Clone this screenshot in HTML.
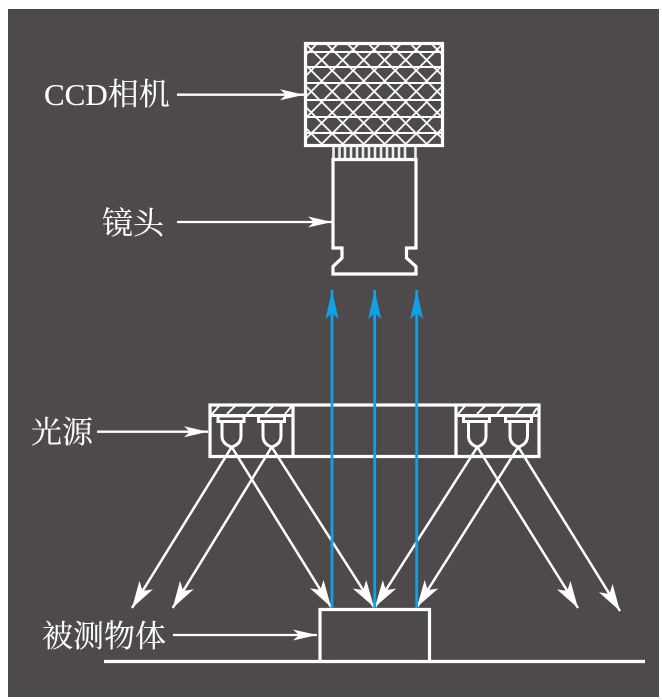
<!DOCTYPE html>
<html><head><meta charset="utf-8"><style>
html,body{margin:0;padding:0;background:#fff;width:662px;height:700px;overflow:hidden}
svg{display:block;position:absolute;left:0;top:0}
text{font-family:"Liberation Serif","Noto Serif CJK SC",serif;font-size:31px;fill:#fff;stroke:#fff;stroke-width:.12px}
</style></head><body>
<svg width="662" height="700" viewBox="0 0 662 700" xmlns="http://www.w3.org/2000/svg">
<defs>
<pattern id="x" patternUnits="userSpaceOnUse" width="21" height="21" patternTransform="translate(311.2,49.5)">
<path d="M-1,-1L22,22M22,-1L-1,22" stroke="#fff" stroke-width="1.8" fill="none"/>
</pattern>
<marker id="w" markerUnits="userSpaceOnUse" markerWidth="30" markerHeight="18" refX="26" refY="9" orient="auto" overflow="visible">
<path d="M26,9L-1,1L6,9L-1,17Z" fill="#fff"/></marker>
<marker id="h" markerUnits="userSpaceOnUse" markerWidth="26" markerHeight="16" refX="24" refY="8" orient="auto" overflow="visible">
<path d="M24,8L0,2.5L6,8L0,13.5Z" fill="#fff"/></marker>
<marker id="b" markerUnits="userSpaceOnUse" markerWidth="30" markerHeight="16" refX="28" refY="8" orient="auto" overflow="visible">
<path d="M28,8L-1,1.5L5,8L-1,14.5Z" fill="#12a0e2"/></marker>
</defs>
<rect x="8" y="9" width="651" height="688" fill="#4e4a4b"/>

<!-- camera -->
<rect x="305.5" y="43.5" width="137" height="101.5" fill="url(#x)"/>
<g stroke="#fff" stroke-width="2" fill="none">
<path d="M305,52H443M305,67H443M305,83H443M305,100H443M305,117H443M305,133H443"/>
</g>
<rect x="305.5" y="43.5" width="137" height="102" fill="none" stroke="#fff" stroke-width="3.2"/>
<!-- comb -->
<g stroke="#eee" stroke-width="2.6" fill="none">
<path d="M333.5,146V159M339.5,146V159M345,146V159M351,146V159M357,146V159M363,146V159M369,146V159M375,146V159M381,146V159M387,146V159M393,146V159M399,146V159M405,146V159M415.5,146V159"/>
</g>
<!-- lens -->
<path d="M333,159.5H416V248H406.5V258L416,266.5V274H333V266.5L342,258V248H333Z" fill="none" stroke="#fff" stroke-width="3.2"/>

<!-- light box -->
<g stroke="#fff" fill="none">
<rect x="210" y="405" width="329" height="51.5" stroke-width="3.2"/>
<path d="M293,405V456M456,405V456" stroke-width="3.2"/>
<path d="M210,415.5H293M456,415.5H539" stroke-width="3"/>
<path d="M212,414L219,406M227,414L235,406M247,414L255,406M265,414L273,406M285,414L291,407M458,414L465,406M477,414L485,406M497,414L504,406M516,414L523,406M533,414L537,408" stroke-width="2"/>
<g stroke-width="3">
<rect x="218" y="416" width="26" height="5.5"/>
<path d="M222,421.5V436Q222,444 231.7,447Q241,444 241,436V421.5"/>
<rect x="258.5" y="416" width="26" height="5.5"/>
<path d="M263,421.5V436Q263,444 271.7,447Q281,444 281,436V421.5"/>
<rect x="463.5" y="416" width="26" height="5.5"/>
<path d="M468.5,421.5V436Q468.5,444 477.3,447Q486,444 486,436V421.5"/>
<rect x="505.5" y="416" width="26" height="5.5"/>
<path d="M510,421.5V436Q510,444 518.3,447Q527.5,444 527.5,436V421.5"/>
</g>
</g>

<!-- object and ground -->
<path d="M320,661V609.5H429.5V661" fill="none" stroke="#fff" stroke-width="3.2"/>
<path d="M104,661.5H645" stroke="#fff" stroke-width="3.2" fill="none"/>

<!-- rays -->
<g stroke="#fff" stroke-width="2.5" fill="none">
<path d="M231.7,447L132,608" marker-end="url(#w)"/>
<path d="M271.7,447L172.7,608" marker-end="url(#w)"/>
<path d="M231.7,447L331,607" marker-end="url(#w)"/>
<path d="M271.7,447L374,607" marker-end="url(#w)"/>
<path d="M477.3,447L375,607" marker-end="url(#w)"/>
<path d="M518.3,447L417,607" marker-end="url(#w)"/>
<path d="M477.3,447L578,608" marker-end="url(#w)"/>
<path d="M518.3,447L620,611" marker-end="url(#w)"/>
</g>
<!-- blue -->
<g stroke="#12a0e2" stroke-width="2.8" fill="none">
<path d="M332,608V290" marker-end="url(#b)"/>
<path d="M374.7,608V290" marker-end="url(#b)"/>
<path d="M416.7,608V290" marker-end="url(#b)"/>
</g>
<!-- label arrows -->
<g stroke="#fff" stroke-width="2.3" fill="none">
<path d="M177,94.7H304" marker-end="url(#h)"/>
<path d="M177,222H332" marker-end="url(#h)"/>
<path d="M97,431.7H208" marker-end="url(#h)"/>
<path d="M173,635H317" marker-end="url(#h)"/>
</g>
<text x="44" y="105">CCD相机</text>
<text x="102" y="234">镜头</text>
<text x="31" y="443">光源</text>
<text x="42" y="647">被测物体</text>
</svg>
</body></html>
